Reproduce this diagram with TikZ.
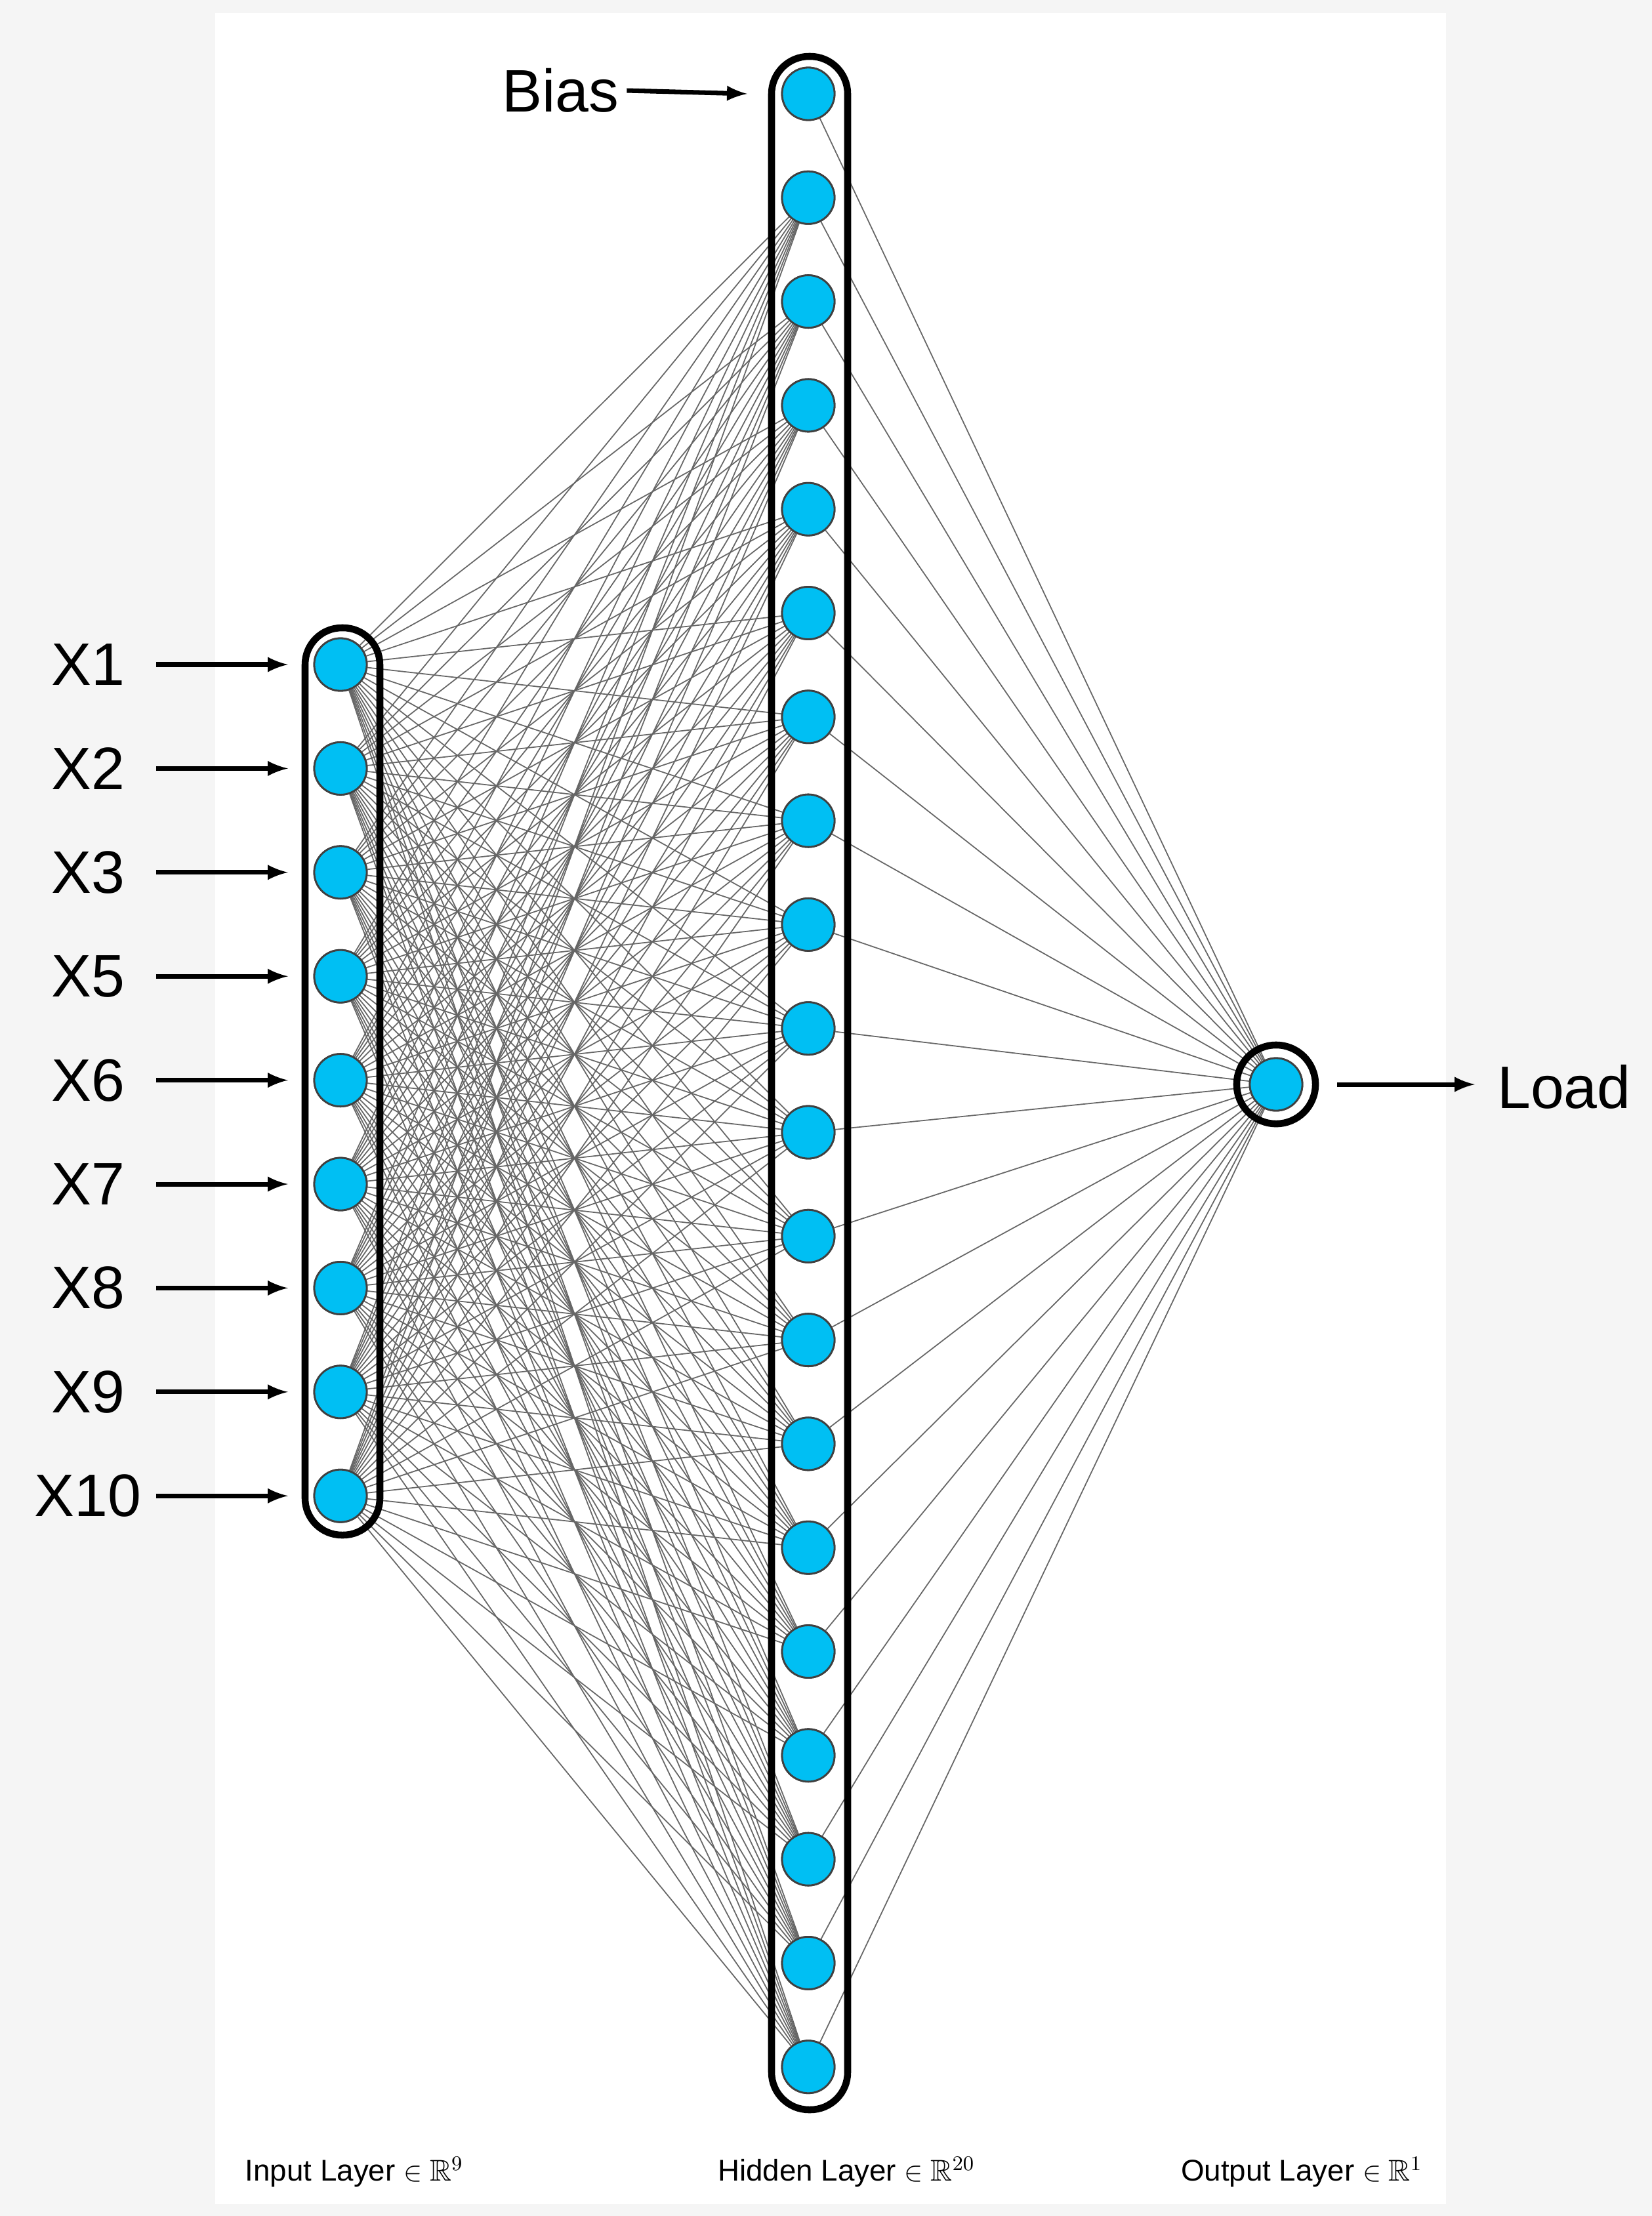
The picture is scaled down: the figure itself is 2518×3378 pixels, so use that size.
\documentclass[tikz,border=0pt]{standalone}
\usepackage{fontspec}
\usepackage{amssymb}
\setmainfont{Liberation Sans}
\definecolor{nblue}{HTML}{00BFF3}
\begin{document}
\begin{tikzpicture}[x=0.01cm,y=-0.01cm,
  unit/.style={circle,draw=black!75,fill=nblue,inner sep=0pt,minimum size=0.8cm,line width=0.8pt},
  wire/.style={draw=black!60,line width=0.5pt},
  feed/.style={-latex,line width=2pt},
  big/.style={font=\fontsize{26}{28}\selectfont},
  small/.style={font=\fontsize{13}{15}\selectfont}]

% background
\fill[black!4] (0,0) rectangle (2518,3378);
\fill[white] (328,20) rectangle (2204,3360);
\useasboundingbox (0,0) rectangle (2518,3378);

% input layer
\foreach \i/\t in {1/X1,2/X2,3/X3,4/X5,5/X6,6/X7,7/X8,8/X9,9/X10}{
  \node[unit] (in\i) at (519,{1013+158.4*(\i-1)}) {};
  \node[big] (lab\i) at (134,{1013+158.4*(\i-1)}) {\t};
  \coordinate (tail\i) at (238,{1013+158.4*(\i-1)});
  \coordinate (tip\i) at (439,{1013+158.4*(\i-1)});
  \draw[feed] (tail\i) -- (tip\i);
}

% hidden layer
\foreach \j in {1,...,20}
  \node[unit] (hid\j) at (1232,{143+158.3*(\j-1)}) {};

% output layer
\node[unit] (out) at (1945,1653) {};

% weights
\foreach \i in {1,...,9}
  \foreach \j in {2,...,20}
    \draw[wire] (in\i) -- (hid\j);
\foreach \j in {1,...,20}
  \draw[wire] (hid\j) -- (out);
\foreach \i in {1,...,9} \node[unit] at (in\i) {};
\foreach \j in {1,...,20} \node[unit] at (hid\j) {};
\node[unit] at (out) {};

% boxes
\draw[line width=3pt,rounded corners=0.56cm] (465,957) rectangle (579,2340);
\draw[line width=3pt,rounded corners=0.57cm] (1176,86) rectangle (1292,3216);
\node[circle,draw,line width=3pt,minimum size=1.2cm,inner sep=0pt] (ring) at (out) {};

% bias and output
\node[big] (bias) at (854,138) {Bias};
\coordinate (btip) at (1139,143);
\draw[feed] (bias.east) -- (btip);
\node[big] (load) at (2384,1657) {Load};
\coordinate (ltail) at (2038,1653);
\coordinate (ltip) at (2248,1653);
\draw[feed] (ltail) -- (ltip);

% layer names
\node[small] (nin) at (540,3311) {Input Layer $\in\mathbb{R}^9$};
\node[small] (nhid) at (1290,3311) {Hidden Layer $\in\mathbb{R}^{20}$};
\node[small] (nout) at (1984,3311) {Output Layer $\in\mathbb{R}^1$};
\end{tikzpicture}
\end{document}
